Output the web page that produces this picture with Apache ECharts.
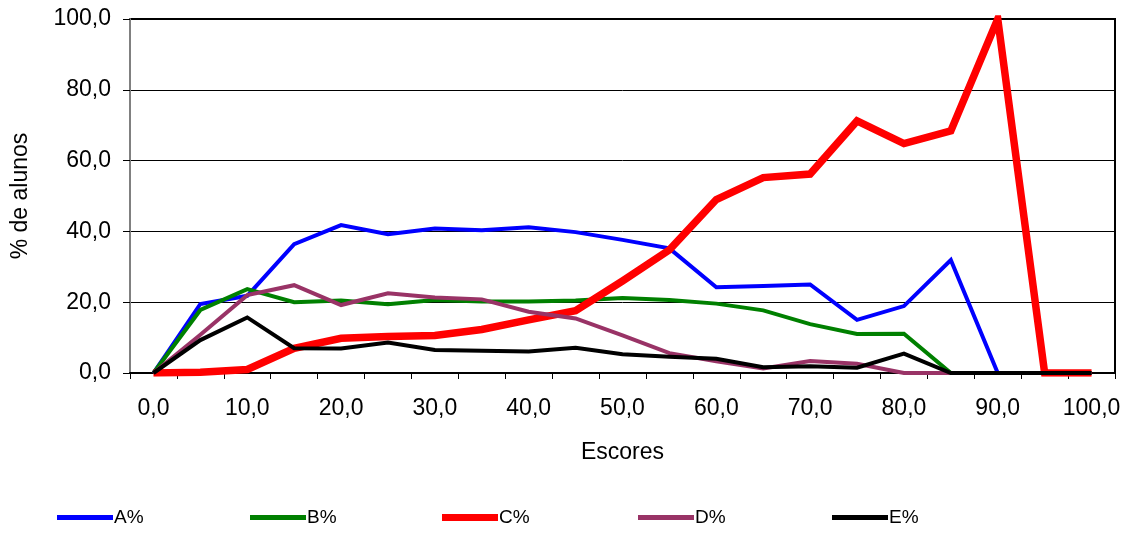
<!DOCTYPE html>
<html>
<head>
<meta charset="utf-8">
<script src="https://cdn.jsdelivr.net/npm/echarts@6/dist/echarts.min.js"></script>
<style>html,body{margin:0;padding:0;background:#fff}#c{width:1136px;height:534px}</style>
</head>
<body>
<div id="c"></div>
<script>
var categories = ['0,0','5,0','10,0','15,0','20,0','25,0','30,0','35,0','40,0','45,0','50,0','55,0','60,0','65,0','70,0','75,0','80,0','85,0','90,0','95,0','100,0'];
var seriesA = [0, 19.5, 21.8, 36.4, 41.8, 39.2, 40.8, 40.3, 41.2, 39.8, 37.6, 35.2, 24.2, 24.6, 25.0, 15.0, 18.9, 31.9, 0, 0, 0];
var seriesB = [0, 17.8, 23.7, 20.0, 20.5, 19.4, 20.6, 20.2, 20.2, 20.5, 21.2, 20.6, 19.6, 17.7, 13.8, 11.0, 11.1, 0, 0, 0, 0];
var seriesC = [0, 0.2, 1.0, 7.0, 9.8, 10.3, 10.6, 12.3, 15.0, 17.6, 26.0, 34.8, 49.0, 55.2, 56.2, 71.2, 64.8, 68.4, 100, 0, 0];
var seriesD = [0, 10.8, 22.0, 24.8, 19.2, 22.5, 21.3, 20.8, 17.3, 15.4, 10.6, 5.6, 3.3, 1.3, 3.4, 2.6, 0, 0, 0, 0, 0];
var seriesE = [0, 9.3, 15.7, 7.0, 6.9, 8.6, 6.5, 6.3, 6.1, 7.1, 5.3, 4.6, 4.0, 1.6, 1.9, 1.5, 5.5, 0, 0, 0, 0];
var seriesNames = ['A%', 'B%', 'C%', 'D%', 'E%'];
var yTicks = [0, 20, 40, 60, 80, 100];

var colors = ['#0000FF', '#008000', '#FF0000', '#993366', '#000000'];
var widths = [4, 4, 7.5, 4, 4];
var allData = [seriesA, seriesB, seriesC, seriesD, seriesE];
var legendLeft = [57, 250, 442, 638, 832];
var fontFam = '"Liberation Sans", Arial, sans-serif';

var chart = echarts.init(document.getElementById('c'), null, {renderer: 'canvas'});
var series = allData.map(function (d, i) {
  return {
    name: seriesNames[i],
    type: 'line',
    data: d,
    showSymbol: false,
    symbol: 'none',
    animation: false,
    lineStyle: {color: colors[i], width: widths[i], join: 'miter'},
    itemStyle: {color: colors[i]},
    z: 2 + i
  };
});
var legends = seriesNames.map(function (n, i) {
  return {
    data: [n],
    left: legendLeft[i],
    top: 508,
    icon: 'rect',
    itemWidth: 56,
    itemHeight: i === 2 ? 7 : 5,
    itemGap: 0,
    padding: 0,
    textStyle: {fontFamily: fontFam, fontSize: 19, color: '#000', padding: [0, 0, 0, -4]},
    selectedMode: false
  };
});
chart.setOption({
  animation: false,
  backgroundColor: '#fff',
  grid: {left: 130, top: 19, right: 21, bottom: 161, show: true, borderColor: '#000', borderWidth: 2, backgroundColor: 'transparent'},
  legend: legends,
  xAxis: {
    type: 'category',
    data: categories,
    boundaryGap: true,
    name: 'Escores',
    nameLocation: 'middle',
    nameGap: 68,
    nameTextStyle: {fontFamily: fontFam, fontSize: 23, color: '#000'},
    axisLine: {lineStyle: {color: '#000', width: 2}},
    axisTick: {show: true, interval: 0, length: 6, lineStyle: {color: '#000', width: 1}},
    axisLabel: {interval: 1, margin: 24, fontFamily: fontFam, fontSize: 23, color: '#000'},
    splitLine: {show: false}
  },
  yAxis: {
    type: 'value',
    min: yTicks[0],
    max: yTicks[yTicks.length - 1],
    interval: 20,
    name: '% de alunos',
    nameLocation: 'middle',
    nameGap: 98,
    nameTextStyle: {fontFamily: fontFam, fontSize: 23, color: '#000'},
    axisLine: {show: true, lineStyle: {color: '#808080', width: 2}},
    axisTick: {show: true, length: 7, lineStyle: {color: '#000'}},
    axisLabel: {margin: 19, fontFamily: fontFam, fontSize: 23, color: '#000',
      formatter: function (v) { return v.toFixed(1).replace('.', ','); }},
    splitLine: {show: true, lineStyle: {color: '#000', width: 1}}
  },
  series: series
});
</script>
</body>
</html>
